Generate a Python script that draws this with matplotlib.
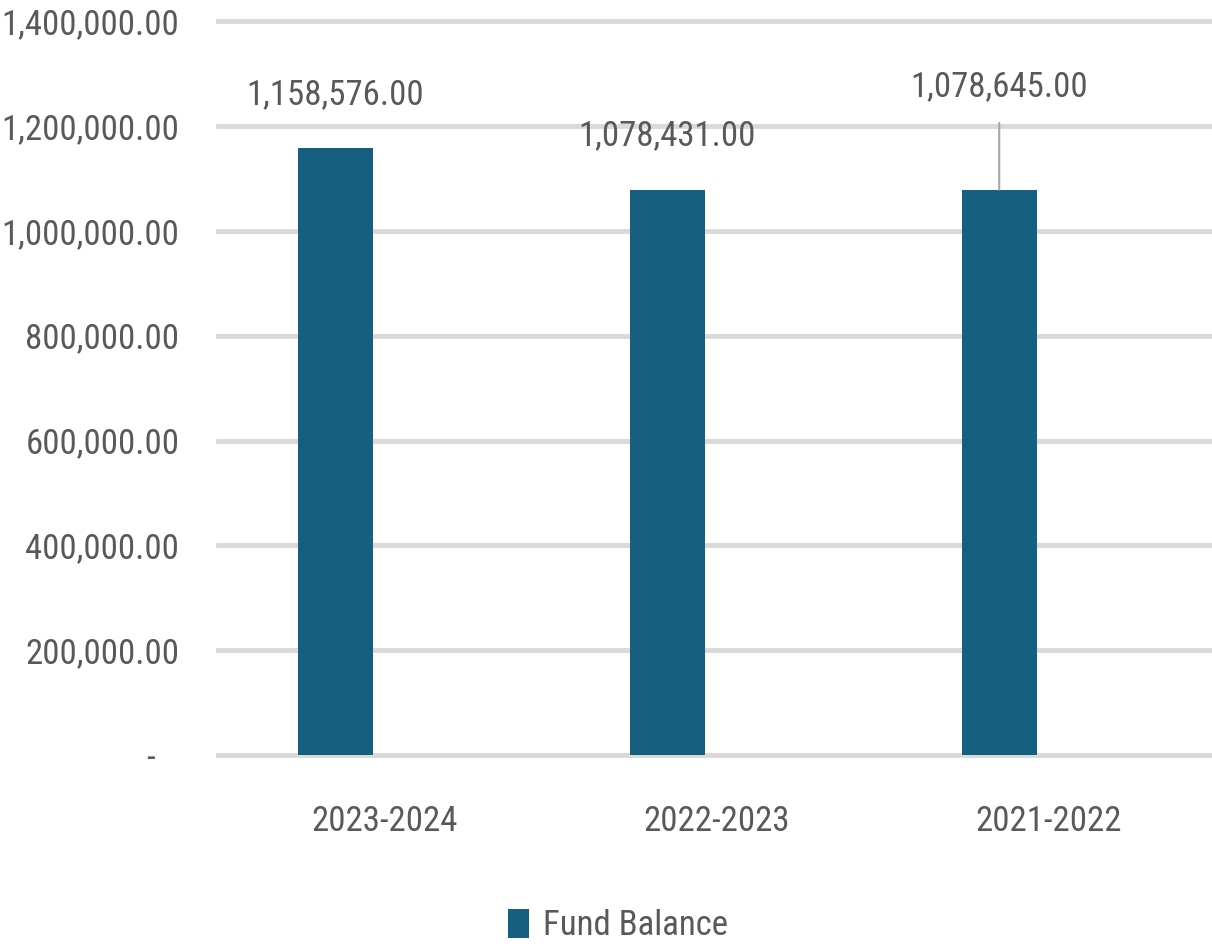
import matplotlib
matplotlib.use("Agg")
import matplotlib.pyplot as plt
from matplotlib.ticker import FuncFormatter
import numpy as np

plt.rcParams['font.family'] = ['Roboto Condensed', 'Liberation Sans Narrow', 'DejaVu Sans']
plt.rcParams['font.stretch'] = 'condensed'

# fund balance by fiscal year
years = ['2023-2024', '2022-2023', '2021-2022']
balance = [1158576.00, 1078431.00, 1078645.00]
series_name = 'Fund Balance'
y_ticks = [0, 200000, 400000, 600000, 800000, 1000000, 1200000, 1400000]

bar_color = '#175f80'
text_color = '#595959'
grid_color = '#d9d9d9'
fs = 25

fig = plt.figure(figsize=(12.12, 9.47), dpi=100)
ax = fig.add_axes([0.18, 0.2027, 0.822, 0.775])

x = np.arange(len(years))
bars = ax.bar(x - 0.148, balance, width=0.226, color=bar_color, label=series_name, zorder=3)

ax.set_xlim(-0.5, 2.5)
ax.set_ylim(0, 1400000)
ax.set_yticks(y_ticks)
ax.set_xticks(x)
ax.set_xticklabels(years)


def money(v, pos):
    if v == 0:
        return '-   '
    return f'{v:,.2f}'


ax.yaxis.set_major_formatter(FuncFormatter(money))
ax.grid(axis='y', color=grid_color, lw=3.5, zorder=0)
for gl in ax.get_ygridlines():
    gl.set_clip_on(False)
ax.set_axisbelow(True)
for s in ax.spines.values():
    s.set_visible(False)
ax.tick_params(axis='y', length=0, pad=28, labelsize=fs, labelcolor=text_color)
ax.tick_params(axis='x', length=0, pad=36, labelsize=fs, labelcolor=text_color)

# value labels; the last one sits higher with a leader line
offsets = [26, 27, 62]
for i, (b, v) in enumerate(zip(bars, balance)):
    cx = b.get_x() + b.get_width() / 2
    if i == 2:
        ax.annotate(f'{v:,.2f}', xy=(cx, v), xytext=(0, offsets[i]),
                    textcoords='offset points', ha='center', va='bottom',
                    fontsize=fs, color=text_color,
                    arrowprops=dict(arrowstyle='-', color='#a6a6a6', lw=1.5,
                                    shrinkA=12, shrinkB=0, relpos=(0.5, 0)))
    else:
        ax.annotate(f'{v:,.2f}', xy=(cx, v), xytext=(0, offsets[i]),
                    textcoords='offset points', ha='center', va='bottom',
                    fontsize=fs, color=text_color)

fig.legend(loc='lower center', bbox_to_anchor=(0.51, -0.028), frameon=False,
           fontsize=fs, labelcolor=text_color, handlelength=0.6, handleheight=0.9,
           handletextpad=0.4)

fig.savefig('out.png', dpi=100)
